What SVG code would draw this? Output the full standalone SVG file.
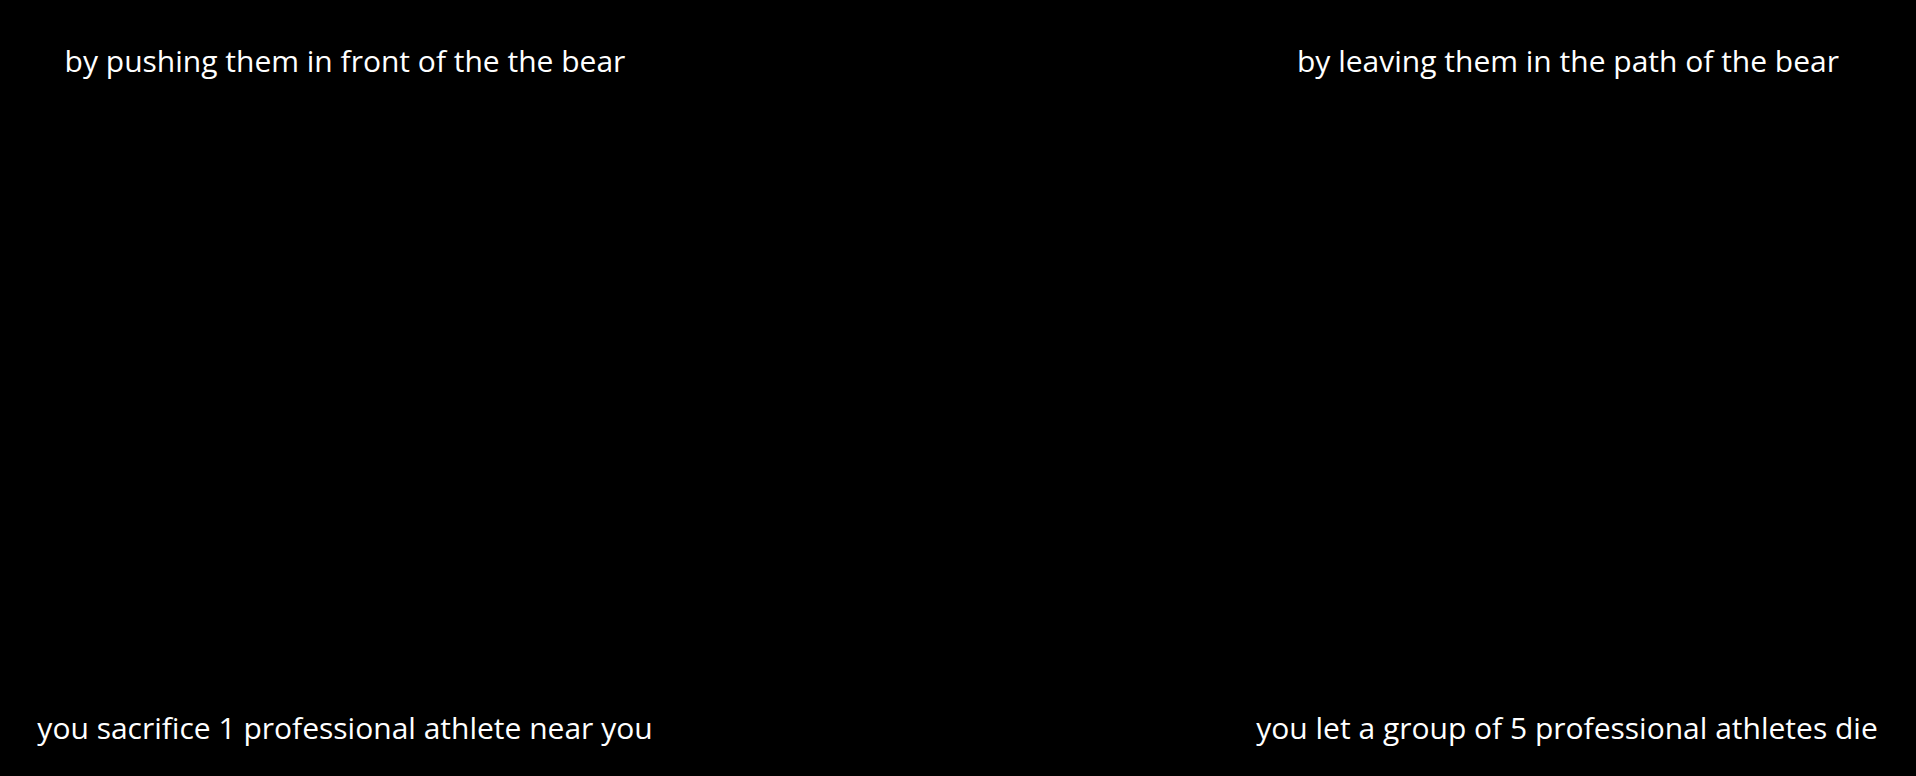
<svg xmlns="http://www.w3.org/2000/svg" width="1916" height="776" viewBox="0 0 1916 776">
<style>
.t{font-family:"Open Sans","Noto Sans","DejaVu Sans",sans-serif;font-size:30px;fill:#ffffff;text-anchor:middle}
</style>
<rect width="1916" height="776" fill="#000000"/>
<g id="top-left"><text class="t" x="345" y="72">by pushing them in front of the the bear</text></g>
<g id="top-right"><text class="t" x="1568" y="72">by leaving them in the path of the bear</text></g>
<g id="bottom-left"><text class="t" x="345" y="739">you sacrifice 1 professional athlete near you</text></g>
<g id="bottom-right"><text class="t" x="1567" y="739">you let a group of 5 professional athletes die</text></g>
<g id="connectors"></g>
</svg>
